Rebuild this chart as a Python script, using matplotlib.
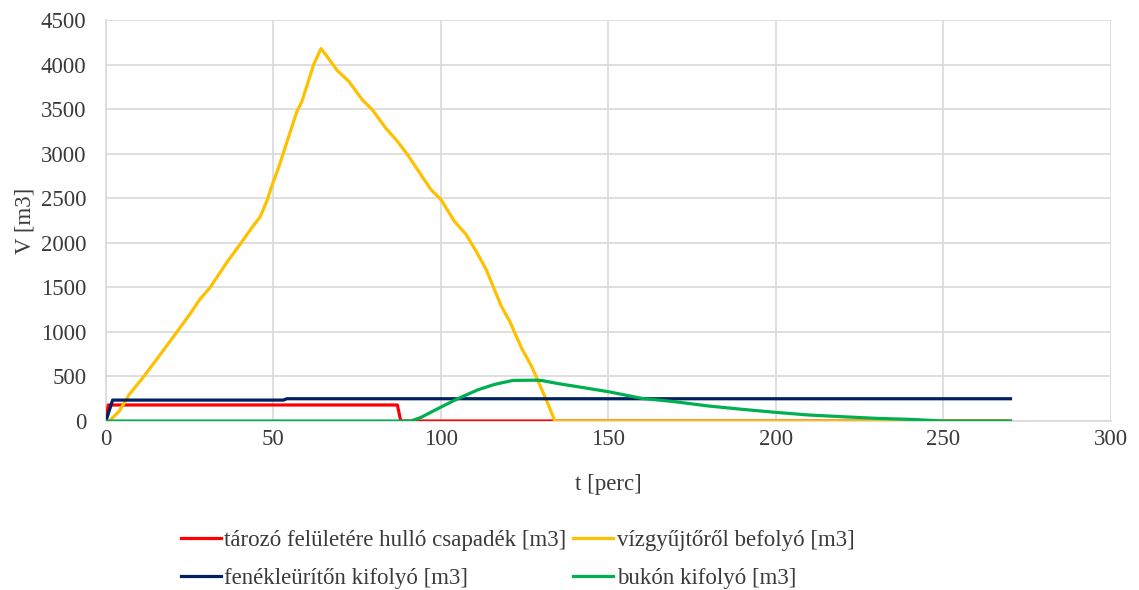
import matplotlib
matplotlib.use("Agg")
import matplotlib.pyplot as plt

# Data
t_red = [0, 0.7, 87, 88, 270]
v_red = [0, 180, 180, 0, 0]

t_yellow = [0, 1, 4, 7, 11, 15.5, 21, 25, 28, 31, 36, 40, 43.5, 46, 48, 50, 51.5,
            57, 58.5, 62, 64.2, 66, 69, 72.5, 76.5, 79.5, 83.5, 87, 90, 93, 97, 100,
            104, 107.5, 110.5, 113.5, 118, 120.5, 124, 127, 129, 132, 134, 270]
v_yellow = [0, 0, 112, 300, 485, 710, 990, 1196, 1364, 1494, 1775, 1981, 2167, 2290,
            2466, 2690, 2840, 3475, 3587, 4000, 4180, 4092, 3935, 3812, 3606, 3494,
            3288, 3139, 2990, 2822, 2598, 2486, 2242, 2093, 1906, 1701, 1289, 1121,
            822, 617, 448, 187, 0, 0]

t_navy = [0, 2, 53, 54, 270]
v_navy = [0, 235, 235, 250, 250]

t_green = [0, 91, 94, 97.7, 101.6, 105, 111, 116, 121.5, 128, 130, 135, 140, 150,
           160, 170, 180, 190, 200, 210, 220, 230, 240, 250, 270]
v_green = [0, 0, 40, 112, 187, 250, 350, 411, 456, 458, 455, 420, 390, 329,
           254, 216, 168, 131, 97, 67, 48, 30, 19, 0, 0]

labels = ["tározó felületére hulló csapadék [m3]", "vízgyűjtőről befolyó [m3]",
          "fenékleürítőn kifolyó [m3]", "bukón kifolyó [m3]"]
x_ticks = [0, 50, 100, 150, 200, 250, 300]
y_ticks = [0, 500, 1000, 1500, 2000, 2500, 3000, 3500, 4000, 4500]

plt.rcParams['font.family'] = ['Liberation Serif', 'DejaVu Serif']

fig = plt.figure(figsize=(11.39, 5.90), dpi=100)
ax = fig.add_axes([0.093, 0.2864, 0.8824, 0.6796])

lw = 2.3
l_red, = ax.plot(t_red, v_red, color="#FF0000", lw=lw, label=labels[0], zorder=3)
l_yel, = ax.plot(t_yellow, v_yellow, color="#FFC000", lw=lw, label=labels[1], zorder=4)
l_nav, = ax.plot(t_navy, v_navy, color="#002060", lw=lw, label=labels[2], zorder=5)
l_grn, = ax.plot(t_green, v_green, color="#00B050", lw=lw, label=labels[3], zorder=6)

txt = "#3A3A3A"
fs = 16.5
ax.set_xlim(0, 300)
ax.set_ylim(0, 4500)
ax.set_xticks(x_ticks)
ax.set_yticks(y_ticks)
ax.tick_params(axis='x', length=0, labelsize=fs, colors=txt, pad=6)
ax.tick_params(axis='y', length=0, labelsize=fs, colors=txt, pad=14)
ax.grid(True, color="#D9D9D9", lw=1.2)
ax.set_axisbelow(True)
for s in ["top", "right"]:
    ax.spines[s].set_visible(False)
for s in ["left", "bottom"]:
    ax.spines[s].set_color("#D9D9D9")
    ax.spines[s].set_linewidth(1.2)

ax.set_xlabel("t [perc]", fontsize=fs, color=txt, labelpad=17)
ax.set_ylabel("V [m3]", fontsize=fs, color=txt, labelpad=4)

fig.legend([l_red, l_nav, l_yel, l_grn],
           [labels[0], labels[2], labels[1], labels[3]],
           ncol=2, loc="center", bbox_to_anchor=(0.4545, 0.052),
           frameon=False, fontsize=fs, handlelength=1.75, handletextpad=0.15,
           columnspacing=0.3, labelspacing=0.75, labelcolor=txt)

fig.savefig("out.png", dpi=100)
